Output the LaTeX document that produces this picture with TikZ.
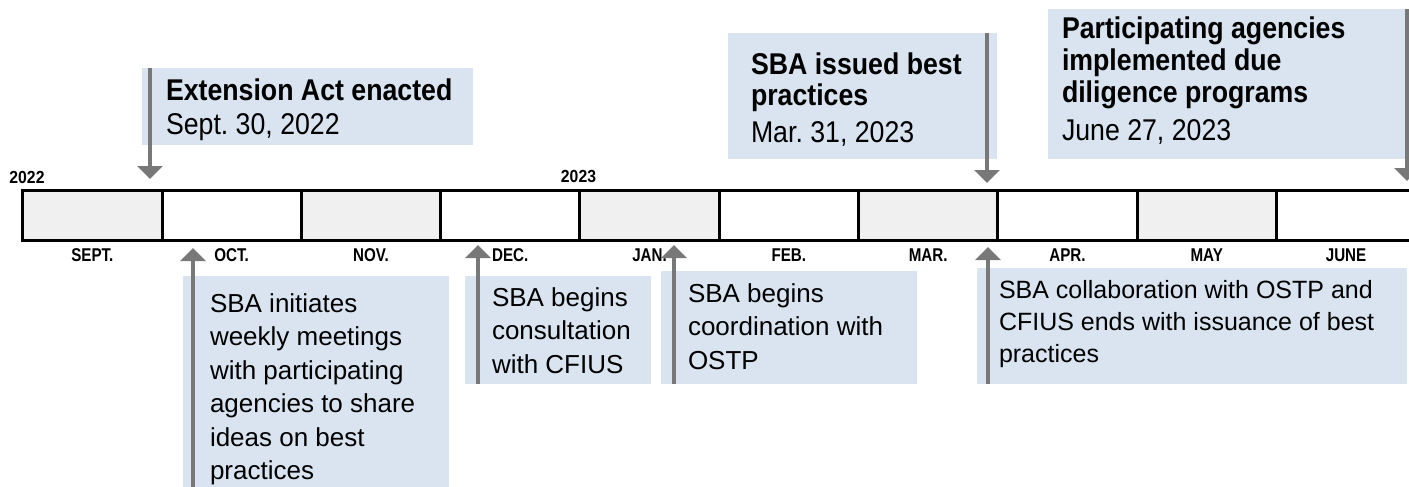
\documentclass[tikz,border=0pt]{standalone}
\usepackage{fontspec}
\setmainfont{Liberation Sans}
\newfontfamily\topfont{Liberation Sans}[FakeStretch=0.89]
\newfontfamily\narrowfont{Liberation Sans}[FakeStretch=0.82]
\newfontfamily\yearfont{Liberation Sans}[FakeStretch=0.9]
\usetikzlibrary{arrows.meta}
\definecolor{boxblue}{RGB}{217,228,240}
\definecolor{cellgray}{RGB}{240,240,240}
\definecolor{arrowgray}{RGB}{120,120,120}
\frenchspacing
\begin{document}
\begin{tikzpicture}[x=1pt,y=-1pt,
  infobox/.style={fill=boxblue, draw=none, inner sep=0, outer sep=0, anchor=north west},
  toptxt/.style={inner sep=0, outer sep=0, anchor=north west, align=left, font=\topfont\fontsize{30}{32}\selectfont},
  bottxt/.style={inner sep=0, outer sep=0, anchor=north west, align=left, font=\fontsize{26}{33.5}\selectfont},
  cell/.style={draw=black, line width=3pt, minimum width=139.3pt, minimum height=50pt, inner sep=0, outer sep=0, anchor=north west},
  monthlbl/.style={font=\narrowfont\bfseries\fontsize{18.5}{20}\selectfont, anchor=base, inner sep=0},
  yearlbl/.style={font=\yearfont\bfseries\fontsize{17.5}{20}\selectfont, anchor=base, inner sep=0},
  arr/.style={draw=arrowgray, line width=3.2pt, -{Triangle[width=25pt,length=13pt]}}
]
\useasboundingbox (0,0) rectangle (1409,487);

% info boxes
\node[infobox, minimum width=331pt, minimum height=77pt] (b1) at (142,68) {};
\node[infobox, minimum width=269pt, minimum height=126pt] (b2) at (728,33) {};
\node[infobox, minimum width=365pt, minimum height=150pt] (b3) at (1048,9) {};
\node[infobox, minimum width=266pt, minimum height=211pt] (b4) at (183,276) {};
\node[infobox, minimum width=186pt, minimum height=108pt] (b5) at (465,276) {};
\node[infobox, minimum width=256pt, minimum height=113pt] (b6) at (661,271) {};
\node[infobox, minimum width=430pt, minimum height=116pt] (b7) at (977,268) {};

% timeline cells
\foreach \i/\m/\f in {0/SEPT./cellgray,1/OCT./white,2/NOV./cellgray,3/DEC./white,4/JAN./cellgray,5/FEB./white,6/MAR./cellgray,7/APR./white,8/MAY/cellgray,9/JUNE/white}{
  \node[cell, fill=\f] (m\i) at ({22.7+139.3*\i},190) {};
  \node[monthlbl] (l\i) at ({22.7+139.3*(\i+0.5)},261) {\m};
}
\node[yearlbl] (y22) at (27,183) {2022};
\node[yearlbl] (y23) at (578.5,182) {2023};

% texts
\node[toptxt] (t1) at (166,77) {\rule{0pt}{23pt}\textbf{Extension Act enacted}\\[3pt]Sept. 30, 2022};
\node[toptxt] (t2) at (751,51) {\rule{0pt}{23pt}\textbf{SBA issued best}\\\textbf{practices}\\[4pt]Mar. 31, 2023};
\node[toptxt] (t3) at (1062,15) {\rule{0pt}{23pt}\textbf{Participating agencies}\\\textbf{implemented due}\\\textbf{diligence programs}\\[6pt]June 27, 2023};
\node[bottxt] (t4) at (210,291) {\rule{0pt}{21pt}SBA initiates\\weekly meetings\\with participating\\agencies to share\\ideas on best\\practices};
\node[bottxt] (t5) at (492,285) {\rule{0pt}{21pt}SBA begins\\consultation\\with CFIUS};
\node[bottxt] (t6) at (688,281) {\rule{0pt}{21pt}SBA begins\\coordination with\\OSTP};
\node[bottxt, font=\fontsize{25}{32}\selectfont] (t7) at (999,277) {\rule{0pt}{21pt}SBA collaboration with OSTP and\\CFIUS ends with issuance of best\\practices};

% arrows
\coordinate (tip1) at (150,179);
\coordinate (tip2) at (987,183);
\coordinate (tip3) at (1407,181);
\coordinate (tip4) at (193,248);
\coordinate (tip5) at (478,245);
\coordinate (tip6) at (674,245);
\coordinate (tip7) at (988,247);
\draw[arr] (tip1 |- b1.north) -- (tip1);
\draw[arr] (tip2 |- b2.north) -- (tip2);
\draw[arr] (tip3 |- b3.north) -- (tip3);
\draw[arr] (tip4 |- b4.south) -- (tip4);
\draw[arr] (tip5 |- b5.south) -- (tip5);
\draw[arr] (tip6 |- b6.south) -- (tip6);
\draw[arr] (tip7 |- b7.south) -- (tip7);
\end{tikzpicture}
\end{document}
